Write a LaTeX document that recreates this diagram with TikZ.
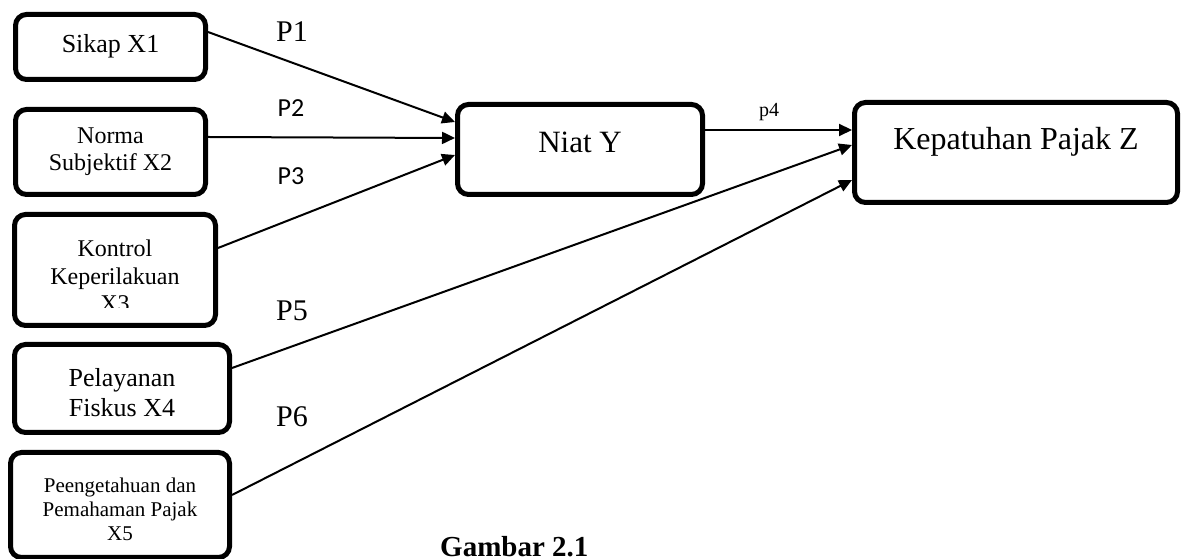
\documentclass[tikz,border=0pt]{standalone}
\usepackage{fontspec}
\setmainfont{Liberation Serif}
\newfontfamily\calibri{Carlito}
\usetikzlibrary{arrows.meta,calc}
\tikzset{
  box/.style={draw=black, line width=5pt, rounded corners=11pt, fill=white, inner sep=0pt},
  conn/.style={line width=2pt, -{Triangle[length=13pt,width=12pt]}},
  plain/.style={line width=2pt},
  lab/.style={inner sep=0pt},
}
\begin{document}
\begin{tikzpicture}[x=1pt,y=1pt]
\useasboundingbox (0,0) rectangle (1185,559);
% boxes
\node[box, minimum width=190pt, minimum height=65pt] (x1) at (110.5,512) {};
\node[box, minimum width=190pt, minimum height=85pt] (x2) at (110.5,407) {};
\node[box, minimum width=201pt, minimum height=111pt] (x3) at (115,289) {};
\node[box, minimum width=215pt, minimum height=88pt] (x4) at (122,170.5) {};
\node[box, minimum width=219pt, minimum height=105pt] (x5) at (120,54) {};
\node[box, minimum width=245pt, minimum height=90pt] (y) at (580,409.5) {};
\node[box, minimum width=323pt, minimum height=100pt] (z) at (1016,406.5) {};
% texts
\node[lab, font=\fontsize{26}{30}\selectfont] (t1) at (110.5,513) {Sikap X1};
\node[lab, font=\fontsize{24}{27}\selectfont, align=center] (t2) at (110.5,407) {Norma\\Subjektif X2};
\begin{scope}
\clip (10,251) rectangle (220,340);
\node[lab, font=\fontsize{24}{27.5}\selectfont, align=center] (t3) at (115,283) {Kontrol\\Keperilakuan\\X3};
\end{scope}
\node[lab, font=\fontsize{26}{30}\selectfont, align=center] (t4) at (122,166) {Pelayanan\\Fiskus X4};
\node[lab, font=\fontsize{21}{24}\selectfont, align=center] (t5) at (120,50) {Peengetahuan dan\\Pemahaman Pajak\\X5};
\node[lab, font=\fontsize{31}{36}\selectfont] (ty) at (580,417) {Niat Y};
\node[lab, font=\fontsize{32}{36}\selectfont] (tz) at (1016,417) {Kepatuhan Pajak Z};
% connectors
\draw[conn] ($(x1.east)+(0,15)$) -- ($(y.west)+(0,27.5)$);
\draw[conn] ($(x2.east)+(0,15)$) -- ($(y.west)+(0,11.5)$);
\draw[conn] ($(x3.east)+(0,22)$) -- ($(y.west)+(0,-5.5)$);
\draw[conn] ($(y.east)+(0,19.5)$) -- ($(z.west)+(0,22.5)$);
\draw[conn] ($(x4.east)+(0,20.5)$) -- ($(z.west)+(0,7.5)$);
\draw[conn] ($(x5.east)+(0,10)$) -- ($(z.west)+(0,-27.5)$);
% labels
\node[lab, font=\fontsize{30}{34}\selectfont] (p1) at (292,527) {P1};
\node[lab, font=\calibri\fontsize{26}{30}\selectfont] (p2) at (291,451) {P2};
\node[lab, font=\calibri\fontsize{26}{30}\selectfont] (p3) at (291,383) {P3};
\node[lab, font=\fontsize{20}{24}\selectfont] (p4) at (769,447) {p4};
\node[lab, font=\fontsize{30}{34}\selectfont] (p5) at (292,248) {P5};
\node[lab, font=\fontsize{30}{34}\selectfont] (p6) at (292,142) {P6};
\node[lab, anchor=base west, font=\bfseries\fontsize{29}{34}\selectfont] (cap) at (440,2) {Gambar 2.1};
\end{tikzpicture}
\end{document}
